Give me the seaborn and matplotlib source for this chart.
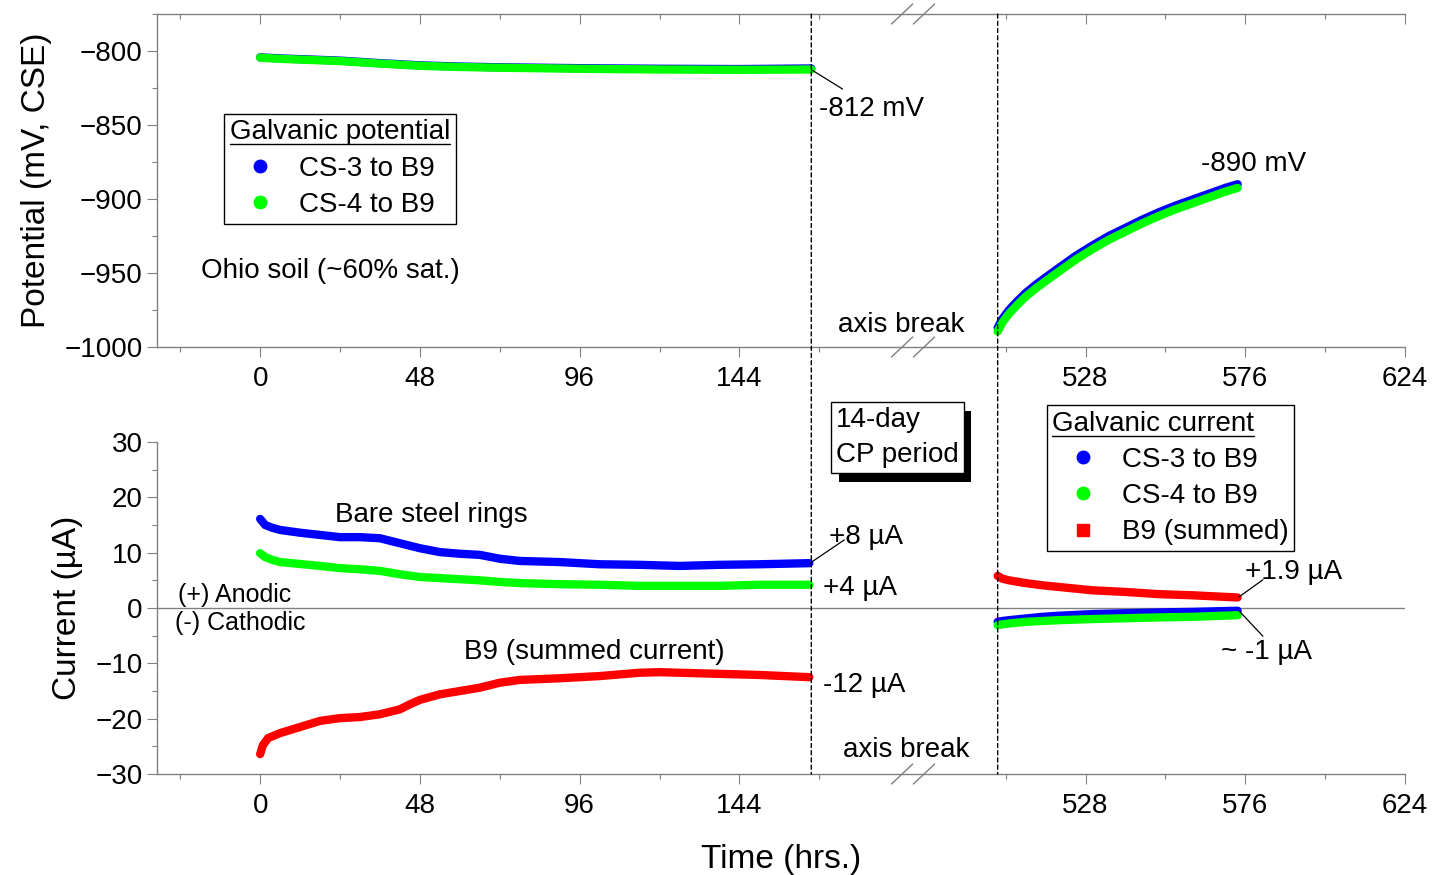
import numpy as np
import seaborn as sns
import matplotlib.pyplot as plt
from matplotlib.lines import Line2D
from matplotlib.patches import ConnectionPatch
from matplotlib import patheffects

# ---- galvanic potential (mV, CSE) ----
pot_hrs_pre = [0, 6, 12, 24, 36, 48, 60, 72, 96, 120, 144, 165.6]
cs3_pot_pre = [-804.3, -805.0, -805.5, -806.5, -808.2, -809.7, -810.5, -811.0, -811.6, -812.0, -812.2, -811.8]
cs4_pot_pre = [-804.5, -805.3, -805.8, -806.8, -808.5, -810.0, -810.8, -811.3, -812.0, -812.5, -812.7, -812.5]

pot_hrs_post = [501.6, 503, 505, 507.5, 510, 513, 516, 520, 525, 530, 535, 540, 545, 550, 555,
                560, 565, 570, 573.7]
cs3_pot_post = [-987, -981, -975, -969, -963.5, -958, -953, -946.5, -938.5, -931.5, -925, -919.5,
                -914, -909, -904.5, -900.5, -896.5, -892.5, -890]
cs4_pot_post = [-989.5, -983.5, -977.5, -971.5, -966, -960.5, -955.5, -949, -941, -934, -927.5, -922,
                -916.5, -911.5, -907, -903, -899, -895, -892.5]

# ---- galvanic current (uA) ----
cur_hrs_pre = [0, 1.5, 3.6, 6, 12, 18, 24, 30, 36, 42, 48, 54, 60, 66, 72, 78, 90, 102, 114, 126,
               138, 150, 165]
cs3_cur_pre = [16.1, 15.0, 14.5, 14.1, 13.6, 13.2, 12.8, 12.8, 12.6, 11.7, 10.8, 10.1, 9.8, 9.6, 8.9,
               8.5, 8.3, 7.9, 7.8, 7.6, 7.8, 7.9, 8.1]
cs4_cur_pre = [9.9, 9.2, 8.7, 8.3, 7.95, 7.6, 7.2, 7.0, 6.7, 6.1, 5.6, 5.4, 5.2, 5.0, 4.7, 4.5, 4.3,
               4.2, 4.0, 4.0, 4.0, 4.2, 4.2]
b9_hrs_pre = [0, 0.8, 2.4, 6, 12, 18, 24, 30, 36, 42, 45, 48, 54, 60, 66, 72, 78, 90, 102, 114, 120,
              126, 138, 150, 165]
b9_cur_pre = [-26.4, -24.8, -23.5, -22.6, -21.5, -20.4, -19.9, -19.7, -19.2, -18.3, -17.4, -16.6,
              -15.6, -15.0, -14.4, -13.5, -13.0, -12.7, -12.3, -11.7, -11.6, -11.7, -11.9, -12.1, -12.5]

cur_hrs_post = [501.6, 503, 505, 510, 515, 520, 530, 540, 550, 560, 573.7]
b9_cur_post = [5.8, 5.3, 5.0, 4.5, 4.1, 3.8, 3.2, 2.9, 2.5, 2.3, 1.9]
cs3_cur_post = [-2.5, -2.35, -2.2, -1.9, -1.6, -1.4, -1.1, -0.95, -0.8, -0.7, -0.5]
cs4_cur_post = [-3.1, -2.95, -2.8, -2.5, -2.35, -2.2, -2.0, -1.85, -1.7, -1.6, -1.3]

major_ticks = [0, 48, 96, 144, 528, 576, 624]
minor_ticks = [-24, 24, 72, 120, 168, 504, 552, 600]

BLUE, GREEN, RED, GRAY = "#0000ff", "#00ff00", "#ff0000", "#808080"
CP_START, CP_END = 165.6, 501.6
BRK, GAP = 196.0, 280.0   # broken time axis: hours BRK..BRK+GAP are cut out
FS = 20


def fwd(x):
    x = np.asarray(x, dtype=float)
    return np.where(x > BRK, np.maximum(x - GAP, BRK), x)


def inv(x):
    x = np.asarray(x, dtype=float)
    return np.where(x > BRK, x + GAP, x)


def draw(ax, hrs, vals, color):
    sns.lineplot(x=hrs, y=vals, ax=ax, color=color, lw=6, sort=False,
                 estimator=None, solid_capstyle="round", solid_joinstyle="round")


def style_axes(ax, ylim, ymajor, yminor):
    ax.set_xscale("function", functions=(fwd, inv))
    ax.set_xlim(-31, 624)
    ax.set_xticks(major_ticks, [str(t) for t in major_ticks])
    ax.set_xticks(minor_ticks, minor=True)
    ax.set_ylim(*ylim)
    ax.set_yticks(ymajor)
    ax.set_yticks(yminor, minor=True)
    for s in ("top", "right"):
        ax.spines[s].set_visible(False)
    for s in ("left", "bottom"):
        ax.spines[s].set_color(GRAY)
        ax.spines[s].set_linewidth(1)
    ax.tick_params(which="both", direction="out", color=GRAY, width=0.8,
                   labelsize=20, labelcolor="black")
    ax.tick_params(which="major", length=7)
    ax.tick_params(which="minor", length=3.5)
    ax.tick_params(axis="x", which="major", pad=7)
    ax.tick_params(axis="y", which="major", pad=3.5)


def slashes(ax, y):
    for cx in (0.597, 0.6146):
        ax.add_line(Line2D([cx - 0.0085, cx + 0.0085], [y - 0.03, y + 0.03],
                           transform=ax.transAxes, color=GRAY, lw=1, clip_on=False))


def leader(ax, start, end):
    ax.annotate("", xy=start, xytext=end,
                arrowprops=dict(arrowstyle="-", color="black", lw=0.9, shrinkA=0, shrinkB=0))


sns.set_theme(style="ticks")
plt.rcParams["font.family"] = ["Liberation Sans", "DejaVu Sans"]
plt.rcParams["text.color"] = "black"
plt.rcParams["axes.labelcolor"] = "black"

fig = plt.figure(figsize=(14.39, 8.75), dpi=100)
ax1 = fig.add_axes([0.1091, 0.6034, 0.8673, 0.3806])
ax2 = fig.add_axes([0.1091, 0.1154, 0.8673, 0.3795])

# top panel: potential
draw(ax1, pot_hrs_pre, cs3_pot_pre, BLUE)
draw(ax1, pot_hrs_pre, cs4_pot_pre, GREEN)
draw(ax1, pot_hrs_post, cs3_pot_post, BLUE)
draw(ax1, pot_hrs_post, cs4_pot_post, GREEN)
style_axes(ax1, (-1000, -775), np.arange(-1000, -799, 50), np.arange(-975, -774, 50))
ax1.set_ylabel("Potential (mV, CSE)", fontsize=24)
ax1.yaxis.set_label_coords(-0.0845, 0.5)
ax1.set_xlabel("")

top = ax1.twiny()
top.set_xscale("function", functions=(fwd, inv))
top.set_xlim(ax1.get_xlim())
top.set_xticks(major_ticks)
top.set_xticks(minor_ticks, minor=True)
top.tick_params(which="both", direction="in", color=GRAY, width=0.8,
                labeltop=False, top=True, bottom=False)
top.tick_params(which="major", length=7)
top.tick_params(which="minor", length=3.5)
for s in ("left", "right", "bottom"):
    top.spines[s].set_visible(False)
top.spines["top"].set_color(GRAY)
top.spines["top"].set_linewidth(1)

# bottom panel: current
ax2.axhline(0, color=GRAY, lw=1, zorder=1)
draw(ax2, cur_hrs_pre, cs3_cur_pre, BLUE)
draw(ax2, cur_hrs_pre, cs4_cur_pre, GREEN)
draw(ax2, b9_hrs_pre, b9_cur_pre, RED)
draw(ax2, cur_hrs_post, b9_cur_post, RED)
draw(ax2, cur_hrs_post, cs3_cur_post, BLUE)
draw(ax2, cur_hrs_post, cs4_cur_post, GREEN)
style_axes(ax2, (-30, 30), np.arange(-30, 31, 10), np.arange(-25, 30, 10))
ax2.set_ylabel("Current (\u00b5A)", fontsize=24)
ax2.yaxis.set_label_coords(-0.0593, 0.5)
ax2.set_xlabel("Time (hrs.)", fontsize=24)
ax2.xaxis.set_label_coords(0.5, -0.21)

# break marks and CP period boundaries
slashes(ax1, 0)
slashes(ax1, 1)
slashes(ax2, 0)
for h in (CP_START, CP_END):
    fig.add_artist(ConnectionPatch(xyA=(h, -775), coordsA=ax1.transData,
                                   xyB=(h, -30), coordsB=ax2.transData,
                                   color="black", lw=1, linestyle=(0, (3, 2.2))))

# annotations, top
ax1.text(168, -839.5, "-812 mV", fontsize=FS, va="center")
leader(ax1, (165.6, -812.6), (175, -825.7))
ax1.text(562.7, -876.4, "-890 mV", fontsize=FS, va="center")
ax1.text(-17.7, -948.6, "Ohio soil (~60% sat.)", fontsize=FS, va="center")
ax1.text(0.596, 0.066, "axis break", fontsize=FS, ha="center", va="center", transform=ax1.transAxes)

# annotations, bottom
ax2.text(22.5, 16.8, "Bare steel rings", fontsize=FS, va="center")
ax2.text(171, 12.8, "+8 \u00b5A", fontsize=FS, va="center")
leader(ax2, (165.2, 8.1), (175.5, 12.3))
ax2.text(169, 3.6, "+4 \u00b5A", fontsize=FS, va="center")
ax2.text(169, -13.9, "-12 \u00b5A", fontsize=FS, va="center")
ax2.text(61.2, -8.0, "B9 (summed current)", fontsize=FS, va="center")
ax2.text(-24.6, 2.35, "(+) Anodic", fontsize=18, va="center")
ax2.text(-25.5, -2.7, "(-) Cathodic", fontsize=18, va="center")
ax2.text(0.600, 0.072, "axis break", fontsize=FS, ha="center", va="center", transform=ax2.transAxes)
ax2.text(575.9, 6.5, "+1.9 \u00b5A", fontsize=FS, va="center")
leader(ax2, (574.1, 2.0), (581.3, 5.1))
ax2.text(568.7, -8.0, "~ -1 \u00b5A", fontsize=FS, va="center")
leader(ax2, (574.1, -0.5), (581.3, -5.1))

cp = ax2.text(0.544, 1.104, "14-day\nCP period", fontsize=FS, ha="left", va="top",
              linespacing=1.45, transform=ax2.transAxes,
              bbox=dict(boxstyle="square,pad=0.18", fc="white", ec="black", lw=1))
cp.get_bbox_patch().set_path_effects([
    patheffects.SimplePatchShadow(offset=(5.5, -6), shadow_rgbFace="black", alpha=1),
    patheffects.Normal()])

# legends
leg_kw = dict(loc="upper left", fontsize=FS, title_fontsize=FS, frameon=True, fancybox=False,
              edgecolor="black", framealpha=1, borderpad=0.2, handlelength=2.19,
              handletextpad=0.31, labelspacing=0.37, borderaxespad=0, alignment="left")
pot_handles = [Line2D([], [], ls="", marker="o", ms=9, color=c) for c in (BLUE, GREEN)]
leg1 = ax1.legend(pot_handles, ["CS-3 to B9", "CS-4 to B9"], title="Galvanic potential",
                  bbox_to_anchor=(0.0537, 0.70), **leg_kw)
cur_handles = [Line2D([], [], ls="", marker="o", ms=9, color=BLUE),
               Line2D([], [], ls="", marker="o", ms=9, color=GREEN),
               Line2D([], [], ls="", marker="s", ms=8, color=RED)]
leg2 = ax2.legend(cur_handles, ["CS-3 to B9", "CS-4 to B9", "B9 (summed)"], title="Galvanic current",
                  bbox_to_anchor=(0.713, 1.111), **leg_kw)
for leg in (leg1, leg2):
    leg.get_frame().set_linewidth(1)
    leg.get_title().set_color("black")

# underline the legend titles
fig.canvas.draw()
inv_fig = fig.transFigure.inverted()
for leg in (leg1, leg2):
    bb = leg.get_title().get_window_extent()
    (x0, y0), (x1, _) = inv_fig.transform([[bb.x0, bb.y0 + 1], [bb.x1, bb.y1]])
    fig.add_artist(Line2D([x0, x1], [y0, y0], color="black", lw=1))

fig.savefig("out.png", dpi=100)
